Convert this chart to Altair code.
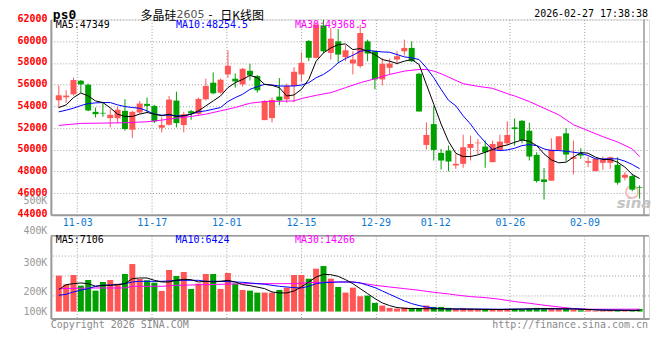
import altair as alt
import pandas as pd
import numpy as np

MONO = "DejaVu Sans Mono"
CJK = "Noto Sans CJK SC"
RED = "#ff5555"
GREEN = "#00a000"
GRID = "#a0a0a0"
FRAME = "#999999"

# ---------------- daily candles (index 0..79) ----------------
opens = [54558, 54832, 55107, 56357, 55992, 53491, 53399, 52911, 52911, 53582,
         51844, 53430, 54223, 54040, 52027, 52301, 54528, 52271, 53552, 53308,
         54650, 56175, 55260, 56937, 56541, 56022, 57273, 56785, 52728, 52911,
         54894, 54650, 55870, 56937, 60018, 58462, 61451, 58920, 59987, 58523,
         57944, 57700, 59987, 59072, 56480, 57547, 58310, 59072, 59377, 56998,
         50441, 52362, 49709, 49922, 48550, 48702, 50166, 50593, 50288, 48855,
         49983, 50593, 52057, 52667, 51752, 49526, 47269, 47147, 49983, 51508,
         49160, 49617, 48794, 48031, 48794, 48794, 48611, 47421, 47574, 46567]
highs = [55930, 55473, 56632, 56418, 56083, 53887, 54345, 53735, 53979, 54650,
         53582, 54497, 54802, 54131, 52972, 54955, 55351, 53491, 53674, 54802,
         56541, 57120, 56541, 59164, 57029, 57547, 57913, 56876, 54558, 54802,
         56602, 56083, 57608, 58981, 60109, 61756, 61970, 61207, 61116, 59621,
         59072, 61512, 60140, 59133, 58462, 58401, 59072, 60140, 59987, 57090,
         52515, 54040, 50075, 50380, 49617, 51386, 51295, 50990, 50837, 50837,
         51386, 52606, 52881, 52728, 52484, 49770, 48306, 51051, 51234, 51996,
         50837, 50136, 49373, 49160, 49373, 49373, 49312, 47940, 47787, 46720]
lows = [53826, 54314, 54985, 55260, 53552, 52972, 53033, 52057, 52454, 51752,
        51081, 53277, 53430, 52454, 51600, 52210, 52057, 51600, 52759, 53216,
        54528, 55107, 55168, 56632, 55717, 55809, 56388, 55260, 52728, 52515,
        54101, 54314, 54375, 56266, 58157, 58401, 58920, 58310, 58005, 58157,
        56937, 57547, 58157, 55565, 55930, 56937, 57852, 58676, 58066, 53521,
        50014, 49007, 48184, 48001, 48245, 48336, 49007, 49617, 48336, 48855,
        49922, 50380, 50380, 50593, 49007, 46964, 45408, 47147, 49922, 48946,
        47726, 49160, 48397, 48031, 48153, 48245, 46781, 47177, 46171, 45500]
closes = [55015, 54985, 56418, 56022, 53613, 53277, 53338, 53216, 53674, 51905,
          53491, 54253, 54040, 52606, 52271, 54619, 52454, 53277, 53338, 54680,
          55870, 55199, 56449, 57730, 56297, 57456, 56846, 55473, 54497, 54589,
          54528, 55870, 57181, 58005, 58462, 61512, 59072, 60231, 58767, 59164,
          58310, 60750, 58859, 56480, 57913, 57944, 58615, 59377, 58157, 53521,
          51356, 49983, 49007, 48916, 48702, 50227, 50532, 50654, 49770, 50532,
          50746, 51356, 51905, 50898, 49373, 47116, 47025, 50014, 51234, 49556,
          49312, 49465, 48946, 49160, 49068, 49312, 46964, 47696, 46323, 46506]
# volume, thousands of lots
volumes = [216, 164, 220, 156, 190, 126, 178, 190, 168, 226,
           286, 196, 188, 174, 124, 250, 214, 238, 136, 168,
           226, 226, 136, 232, 168, 130, 126, 114, 114, 114,
           130, 144, 220, 220, 198, 258, 274, 198, 148, 114,
           144, 92, 96, 52, 36, 22, 18, 24, 22, 20,
           36, 28, 28, 22, 16, 20, 16, 12, 12, 12,
           12, 12, 16, 12, 16, 22, 16, 22, 16, 16,
           12, 8, 8, 5, 5, 5, 5, 5, 5, 16]

# ---------------- price moving averages ----------------
ma5 = [53887, 54131, 54802, 55229, 54954, 54497, 54345, 53856, 53277, 53064,
       53064, 53277, 53430, 53277, 53125, 53277, 53064, 53125, 53277, 53582,
       54040, 54497, 54954, 55717, 56175, 56480, 56846, 56632, 56022, 55930,
       55717, 54954, 55046, 55565, 56480, 58157, 58920, 59377, 59682, 59743,
       59225, 59316, 59072, 58767, 58310, 58157, 57944, 58157, 58310, 57852,
       56022, 54192, 52362, 50776, 49678, 49373, 49373, 49526, 49770, 50014,
       50288, 50441, 50685, 50898, 50776, 50380, 49617, 49068, 48794, 48855,
       49312, 49739, 49678, 49312, 49098, 49098, 48855, 48397, 47726, 47349]
ma10 = [53490, 53643, 53826, 54070, 54253, 54314, 54345, 54345, 54131, 53979,
        53887, 53826, 53582, 53277, 53186, 53186, 53125, 53125, 53277, 53490,
        53582, 53735, 53887, 54436, 54802, 55107, 55565, 55808, 56022, 55961,
        55870, 55870, 55870, 55961, 56175, 56632, 56937, 57395, 58005, 58401,
        58706, 59072, 59164, 59072, 59011, 58981, 58767, 58554, 58462, 58310,
        57547, 56632, 55565, 54558, 54040, 53125, 52362, 51447, 50685, 50014,
        49922, 49983, 50136, 50380, 50471, 50380, 50075, 49922, 49922, 49861,
        49770, 49678, 49465, 49160, 49160, 49160, 49160, 48946, 48641, 48254.5]
ma30_idx = [0, 3, 6, 9, 12, 14, 16, 18, 20, 22, 24, 26, 28, 32, 33, 35, 37, 39,
            41, 43, 45, 47, 49, 50, 51, 52, 53, 55, 57, 59, 61, 62, 64, 66, 68,
            70, 72, 74, 76, 78, 79]
ma30 = [52240, 52423, 52454, 52484, 52576, 52728, 52911, 53064, 53277, 53582,
        53887, 54284, 54436, 54497, 54710, 55015, 55260, 55717, 56175, 56541,
        56937, 57242, 57395, 57395, 57242, 56998, 56693, 56083, 55839, 55656,
        55168, 54954, 54436, 53826, 53216, 52301, 51752, 51203, 50715, 50075,
        49368.5]

# ---------------- volume moving averages ----------------
vma5_idx = [0, 1, 2, 3, 4, 5, 6, 7, 8, 9, 10, 11, 12, 13, 14, 15, 16, 17, 18,
            19, 20, 21, 22, 23, 24, 25, 26, 28, 29, 30, 31, 32, 33, 34, 35, 36,
            37, 38, 39, 40, 41, 42, 43, 44, 45, 46, 47, 48, 53, 60, 66, 70, 74, 79]
vma5 = [132, 162, 168, 172, 168, 152, 158, 158, 162, 168, 198, 202, 202, 188,
        178, 178, 188, 194, 192, 178, 182, 178, 182, 188, 178, 162, 156, 138,
        118, 112, 112, 124, 148, 178, 208, 224, 222, 212, 192, 168, 138, 108,
        78, 52, 36, 24, 20, 18, 16, 12, 18, 16, 8, 7.106]
vma10_idx = [0, 1, 2, 3, 4, 5, 6, 7, 8, 9, 10, 11, 12, 14, 15, 16, 19, 20, 22,
             23, 24, 25, 26, 28, 30, 32, 33, 34, 35, 36, 38, 40, 41, 42, 43, 44,
             45, 46, 47, 48, 49, 50, 51, 52, 53, 60, 66, 70, 74, 79]
vma10 = [98, 104, 118, 128, 138, 152, 158, 160, 162, 168, 178, 182, 182, 182,
         184, 188, 188, 182, 182, 180, 178, 176, 172, 164, 152, 144, 142, 152,
         168, 174, 178, 178, 172, 158, 144, 124, 104, 84, 64, 48, 36, 28, 22,
         18, 16, 14, 16, 16, 10, 6.424]
vma30_idx = [0, 5, 9, 10, 14, 16, 26, 32, 34, 37, 40, 41, 43, 45, 47, 49, 51,
             53, 54, 56, 58, 60, 62, 64, 66, 68, 70, 72, 79]
vma30 = [138, 142, 142, 152, 152, 158, 168, 168, 174, 178, 178, 172, 158, 148,
         138, 128, 116, 106, 100, 90, 84, 74, 60, 50, 38, 28, 18, 14, 14.266]

# ---------------- axis labels ----------------
date_labels = ["11-03", "11-17", "12-01", "12-15", "12-29", "01-12", "01-26", "02-09"]
date_idx = [3, 13, 23, 33, 43, 51, 61, 71]
price_ticks = [44000, 46000, 48000, 50000, 52000, 54000, 56000, 58000, 60000, 62000]
vol_label_text = ["100K", "200K", "300K", "400K"]
vol_label_at = [2, 118, 296, 456]
vol_grid = [94, 214, 334]
overlay_vol_label = ("500K", 45230)

title_code = "ps0"
title_name = "多晶硅"
title_contract = "2605"
title_kind = "日K线图"
stamp = "2026-02-27 17:38:38"

# ---------------- build data ----------------
candles = pd.DataFrame({"i": np.arange(len(opens)), "open": opens, "high": highs,
                        "low": lows, "close": closes, "vol": volumes})
candles["dir"] = np.where(candles["close"] >= candles["open"], "up", "down")

X_DOMAIN = [-0.4, 79.6]
P_DOMAIN = [44000, 62000]
V_DOMAIN = [-42, 456]

tick_vals = [round(k - 0.5 + (k - 3) * 0.0147, 3) for k in date_idx]
tick_expr = "{" + ",".join(f"'{v}':'{t}'" for v, t in zip(tick_vals, date_labels)) + "}[datum.value]"

x_scale = alt.Scale(domain=X_DOMAIN, nice=False, zero=False)
p_scale = alt.Scale(domain=P_DOMAIN, nice=False, zero=False)
v_scale = alt.Scale(domain=V_DOMAIN, nice=False, zero=False)

color = alt.Color("dir:N", scale=alt.Scale(domain=["up", "down"], range=[RED, GREEN]), legend=None)

x_axis_main = alt.Axis(values=tick_vals, labelExpr=tick_expr, title=None, grid=True,
                       gridDash=[1, 2], gridColor=GRID, ticks=False, domainColor=FRAME,
                       domainWidth=2, labelColor="#0a78d2", labelFont=MONO, labelFontSize=10,
                       labelPadding=3, labelFlush=False, labelOverlap=False)
x_axis_vol = alt.Axis(values=tick_vals, labels=False, title=None, grid=True,
                      gridDash=[1, 2], gridColor=GRID, ticks=False, domainColor=FRAME,
                      domainWidth=2)

ov_txt, ov_val = overlay_vol_label
p_axis = alt.Axis(
    values=sorted(price_ticks + [ov_val]), format="d",
    labelExpr=f"datum.value == {ov_val} ? '{ov_txt}' : datum.label",
    title=None, grid=True, gridDash=[1, 2], gridColor=GRID,
    gridOpacity={"condition": {"test": "datum.value < 46000", "value": 0}, "value": 1},
    ticks=False, domainColor=FRAME, domainWidth=2,
    labelColor={"condition": {"test": f"datum.value == {ov_val}", "value": "#999999"}, "value": "#ff0000"},
    labelFontWeight={"condition": {"test": f"datum.value == {ov_val}", "value": "normal"}, "value": "bold"},
    labelFont=MONO, labelFontSize=10, labelPadding=4, labelOffset=-1, labelOverlap=False,
    minExtent=42, maxExtent=42)

v_expr = "{" + ",".join(f"'{v}':'{t}'" for v, t in zip(vol_label_at, vol_label_text)) + "}[datum.value]"
v_axis = alt.Axis(
    values=vol_label_at, labelExpr=v_expr, title=None, grid=False, ticks=False,
    domainColor=FRAME, domainWidth=2, labelColor="#999999", labelFont=MONO,
    labelFontSize=10, labelPadding=4, labelOverlap=False,
    labelBaseline={"condition": {"test": f"datum.value >= {vol_label_at[-1]}", "value": "bottom"}, "value": "middle"},
    minExtent=42, maxExtent=42)


def text(t, x, y, color="#000000", size=10, font=MONO, weight="normal", align="left",
         baseline="middle", style="normal"):
    return alt.Chart(pd.DataFrame({"t": [t]})).mark_text(
        align=align, baseline=baseline, font=font, fontSize=size, fontWeight=weight,
        fontStyle=style, color=color).encode(text="t:N", x=alt.value(x), y=alt.value(y))


X_main = alt.X("i:Q", scale=x_scale, axis=x_axis_main)
X_vol = alt.X("i:Q", scale=x_scale, axis=x_axis_vol)

wicks = alt.Chart(candles).mark_rule(strokeWidth=1).encode(
    x=X_main, y=alt.Y("low:Q", scale=p_scale, axis=p_axis), y2="high:Q", color=color)
bodies = alt.Chart(candles).mark_bar(size=6).encode(
    x=X_main, y=alt.Y("open:Q", scale=p_scale, axis=p_axis), y2="close:Q", color=color)


def line(idx, vals, col, X, scale, axis):
    df = pd.DataFrame({"i": idx, "v": vals})
    return alt.Chart(df).mark_line(color=col, strokeWidth=1).encode(
        x=X, y=alt.Y("v:Q", scale=scale, axis=axis))


def vrule(xval, xaxis):
    return alt.Chart(pd.DataFrame({"x": [xval]})).mark_rule(
        color=FRAME, strokeWidth=1.5).encode(x=alt.X("x:Q", scale=x_scale, axis=xaxis))


# sina watermark logo (decorative ring above the word)
logo = alt.Chart(pd.DataFrame({"k": [0]})).mark_point(
    shape="circle", filled=False, size=150, strokeWidth=2, color="#f2a9a9", opacity=0.75
).encode(x=alt.value(583), y=alt.value(173))

l5 = line(list(range(80)), ma5, "#000000", X_main, p_scale, p_axis)
l10 = line(list(range(80)), ma10, "#0000ff", X_main, p_scale, p_axis)
l30 = line(ma30_idx, ma30, "#ff00ff", X_main, p_scale, p_axis)

main = alt.layer(
    vrule(X_DOMAIN[1], x_axis_main),
    logo,
    text("sina", 585, 184, "#c4c4c4", size=15, font="DejaVu Sans", weight="bold", align="center", style="italic"),
    wicks, bodies, l30, l10, l5,
    text(f"MA5:{ma5[-1]:g}", 5, 6, "#000000"),
    text(f"MA10:{ma10[-1]:g}", 125.5, 6, "#0000ff"),
    text(f"MA30:{ma30[-1]:g}", 245, 6, "#ff00ff"),
    text(title_code, 2, -10, "#000000", size=13, weight="bold", baseline="top"),
    text(title_name, 90, -8, "#000000", size=12, font=CJK, baseline="top"),
    text(title_contract, 126, -10, "#555555", size=11, font="DejaVu Sans", baseline="top"),
    text("-", 158, -10, "#000000", size=11, font="DejaVu Sans", baseline="top"),
    text(title_kind, 170, -8, "#000000", size=12, font=CJK, baseline="top"),
    text(stamp, 599, -10, "#000000", align="right", baseline="top"),
).properties(width=600, height=196)

vbars = alt.Chart(candles).mark_bar(size=6).encode(
    x=X_vol, y=alt.Y("vol:Q", scale=v_scale, axis=v_axis), y2=alt.datum(0), color=color)
vgrid = alt.Chart(pd.DataFrame({"g": vol_grid})).mark_rule(
    strokeDash=[1, 2], color=GRID, strokeWidth=1).encode(
    y=alt.Y("g:Q", scale=v_scale, axis=v_axis))
vtop = alt.Chart(pd.DataFrame({"g": [V_DOMAIN[1]]})).mark_rule(
    color=FRAME, strokeWidth=1.5).encode(y=alt.Y("g:Q", scale=v_scale, axis=v_axis))
v5 = line(vma5_idx, vma5, "#000000", X_vol, v_scale, v_axis)
v10 = line(vma10_idx, vma10, "#0000ff", X_vol, v_scale, v_axis)
v30 = line(vma30_idx, vma30, "#ff00ff", X_vol, v_scale, v_axis)

vol = alt.layer(
    vgrid, vtop, vrule(X_DOMAIN[1], x_axis_vol), vbars, v30, v10, v5,
    text(f"MA5:{round(vma5[-1]*1000)}", 5, 4, "#000000"),
    text(f"MA10:{round(vma10[-1]*1000)}", 125, 4, "#0000ff"),
    text(f"MA30:{round(vma30[-1]*1000)}", 245, 4, "#ff00ff"),
    text("Copyright 2026 SINA.COM", 0, 89.5, "#888888"),
    text("http://finance.sina.com.cn", 599, 89.5, "#888888", align="right"),
).properties(width=600, height=83)

chart = alt.vconcat(main, vol, spacing=21, bounds="flush").properties(
    padding={"left": 0, "top": 0, "right": 0, "bottom": 0}
).configure_view(stroke=None).configure(background="white")

chart.save("out.html", embed_options={"renderer": "svg", "actions": False})
